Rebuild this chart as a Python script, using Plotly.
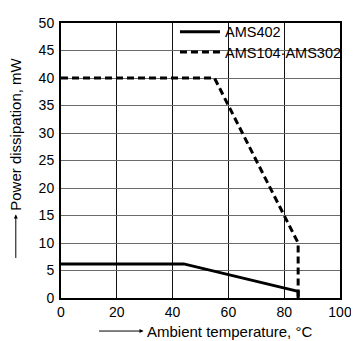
import plotly.graph_objects as go

ams402_x = [0, 44, 85, 85]
ams402_y = [6.2, 6.2, 1.2, 0]
ams104_x = [0, 55, 85, 85]
ams104_y = [40, 40, 10, 0]
x_ticks = [0, 20, 40, 60, 80, 100]
y_ticks = [0, 5, 10, 15, 20, 25, 30, 35, 40, 45, 50]

# page has an 8px body margin; compensate
OFF = 8
W, H = 359, 341
L, R, T, B = 61, 14, 15, 43
FW, FH = W - OFF, H - OFF

fig = go.Figure()
fig.add_trace(go.Scatter(x=ams402_x, y=ams402_y, mode="lines", name="AMS402",
                         line=dict(color="black", width=3), legend="legend"))
fig.add_trace(go.Scatter(x=ams104_x, y=ams104_y, mode="lines", name="AMS104·AMS302",
                         line=dict(color="black", width=3, dash="7px,4px"), legend="legend2"))

fam = "Liberation Sans, Arial, sans-serif"
tick_font = dict(family=fam, size=14, color="black")
title_font = dict(family=fam, size=15, color="black")
leg_font = dict(family=fam, size=14.5, color="black")
axis_common = dict(showline=True, linecolor="black", linewidth=2, mirror=True,
                   showgrid=True, gridwidth=1, zeroline=False,
                   ticks="", tickfont=tick_font)
fig.update_xaxes(range=[0, 100], tickvals=x_ticks, gridcolor="#111", **axis_common)
fig.update_yaxes(range=[0, 50], tickvals=y_ticks, ticklabelstandoff=2, gridcolor="#6a6a6a",
                 **axis_common)

pw = W - L - R
ph = H - T - B

def px_x(p):
    return (p - L) / pw

def px_y(p):
    return (H - B - p) / ph

annotations = [
    dict(text="Ambient temperature, °C", x=px_x(147), y=px_y(332), xref="paper", yref="paper",
         xanchor="left", yanchor="middle", showarrow=False, font=title_font),
    dict(text="", x=px_x(145), y=px_y(332), xref="paper", yref="paper",
         showarrow=True, ax=-46, ay=0, arrowhead=2, arrowsize=0.8, arrowwidth=1, arrowcolor="black"),
    dict(text="Power dissipation, mW", x=px_x(15), y=px_y(210), xref="paper", yref="paper",
         xanchor="center", yanchor="bottom", textangle=-90, showarrow=False, font=title_font),
    dict(text="", x=px_x(15), y=px_y(212), xref="paper", yref="paper",
         showarrow=True, ax=0, ay=45, arrowhead=2, arrowsize=0.8, arrowwidth=1, arrowcolor="black"),
]

leg_common = dict(xanchor="left", yanchor="middle", bgcolor="rgba(0,0,0,0)",
                  font=leg_font, itemwidth=40, borderwidth=0)

fig.update_layout(
    width=FW, height=FH,
    margin=dict(l=L - OFF, r=R, t=T - OFF, b=B),
    paper_bgcolor="white", plot_bgcolor="white",
    font=tick_font,
    showlegend=True,
    legend=dict(x=px_x(177), y=px_y(24), **leg_common),
    legend2=dict(x=px_x(177), y=px_y(45), **leg_common),
    annotations=annotations,
)

fig.write_html("out.html")
